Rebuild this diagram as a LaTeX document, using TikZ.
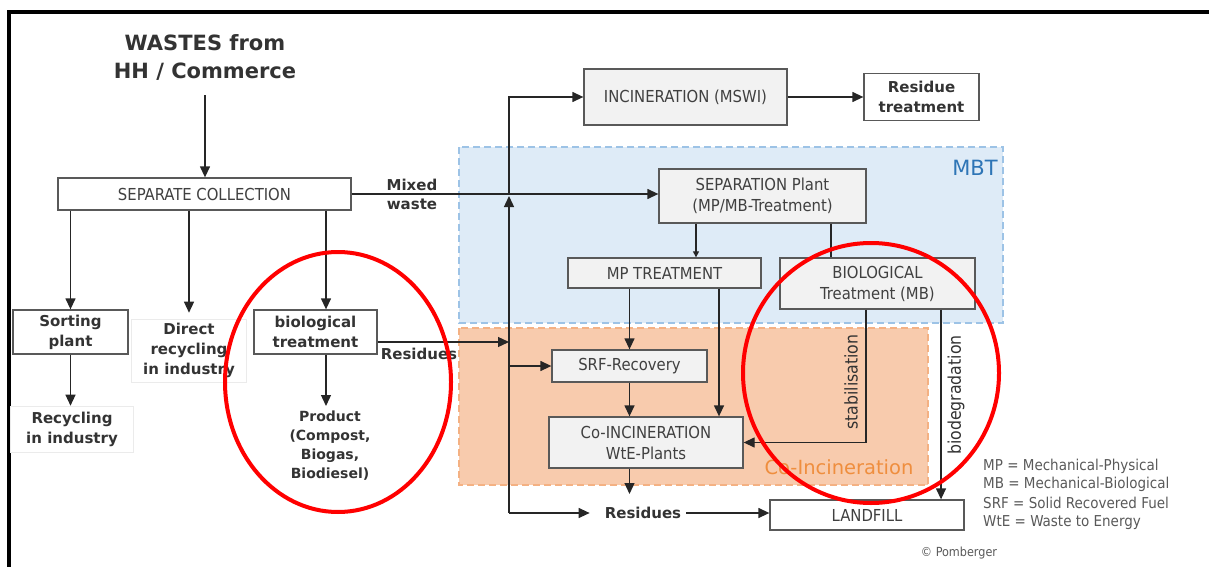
\documentclass[tikz,border=0pt]{standalone}
\usepackage{fontspec}
\setmainfont{DejaVu Sans}
\newfontfamily\boxfont{DejaVu Sans Condensed}
\usetikzlibrary{arrows.meta,calc,positioning}

\definecolor{boxgrey}{HTML}{F2F2F2}
\definecolor{edgegrey}{HTML}{595959}
\definecolor{txtgrey}{HTML}{404040}
\definecolor{linegrey}{HTML}{262626}
\definecolor{labgrey}{HTML}{333333}
\definecolor{mbtfill}{HTML}{DEEBF7}
\definecolor{mbtedge}{HTML}{9DC3E6}
\definecolor{mbttext}{HTML}{2E75B6}
\definecolor{cofill}{HTML}{F8CBAD}
\definecolor{coedge}{HTML}{F4B183}
\definecolor{cotext}{HTML}{EF8E3E}

\tikzset{
    procbox/.style={draw=edgegrey, line width=1.3pt, fill=boxgrey, text=txtgrey,
        font=\boxfont\fontsize{16.5}{21}\selectfont, align=center, inner sep=0pt},
    plainbox/.style={procbox, fill=white},
    boldbox/.style={draw=edgegrey, line width=1.3pt, fill=white, text=labgrey,
        font=\bfseries\fontsize{15}{20}\selectfont, align=center, inner sep=0pt},
    faintbox/.style={boldbox, draw=black!8, line width=0.6pt},
    lab/.style={text=labgrey, font=\bfseries\fontsize{15}{19}\selectfont, align=center, inner sep=5pt},
    flow/.style={draw=linegrey, line width=1.3pt, -{Triangle[length=11pt,width=10pt]}},
    smallflow/.style={draw=linegrey, line width=1.1pt, -{Triangle[length=6pt,width=6pt]}},
    link/.style={draw=linegrey, line width=1.3pt},
    region/.style={dash pattern=on 7pt off 4pt, line width=1.8pt},
    redring/.style={draw=red, line width=4pt}
}

\begin{document}
\begin{tikzpicture}[x=1pt, y=-1pt]
    \useasboundingbox (0,0) rectangle (1209,567);
    % Frame
    \draw[line width=3.5pt] (9,567) -- (9,12) -- (1209,12);

    % MBT and co-incineration regions
    \draw[region, draw=mbtedge, fill=mbtfill] (459,147) rectangle (1003,323);
    \draw[region, draw=coedge, fill=cofill] (459,328) rectangle (928,485);
    \node[text=mbttext, font=\fontsize{21}{24}\selectfont] (mbtlabel) at (975,168) {MBT};
    \node[text=cotext, font=\fontsize{19.5}{22}\selectfont] (colabel) at (839,467) {Co-Incineration};

    % Source and separate collection
    \node[text=labgrey, font=\bfseries\fontsize{21}{28}\selectfont, align=center] (src) at (205,57) {WASTES from\\HH / Commerce};
    \node[plainbox, minimum width=293pt, minimum height=32pt] (sepcol) at (204.5,194) {SEPARATE COLLECTION};

    \node[boldbox, minimum width=115pt, minimum height=44pt] (sorting) at (70.5,332) {Sorting\\plant};
    \node[faintbox, minimum width=123pt, minimum height=46pt] (recyc) at (72,429) {Recycling\\in industry};
    \node[faintbox, minimum width=115pt, minimum height=63pt] (direct) at (189,350.5) {Direct\\recycling\\in industry};
    \node[boldbox, minimum width=123pt, minimum height=44pt] (biotr) at (315.5,332) {biological\\treatment};
    \node[lab, anchor=north, font=\bfseries\fontsize{14}{19}\selectfont] (product) at (330,406) {Product\\(Compost,\\Biogas,\\Biodiesel)};
    \node[lab] (resleft) at (419,354) {Residues};
    \node[lab] (mixed) at (412,194) {Mixed\\waste};

    % Incineration
    \node[procbox, minimum width=203pt, minimum height=56pt] (incin) at (685.5,97) {INCINERATION (MSWI)};
    \node[boldbox, minimum width=115pt, minimum height=47pt] (restr) at (921.5,97) {Residue\\treatment};

    % MBT boxes
    \node[procbox, minimum width=207pt, minimum height=54pt] (sepplant) at (762.5,196) {SEPARATION Plant\\(MP/MB-Treatment)};
    \node[procbox, minimum width=193pt, minimum height=30pt] (mptr) at (664.5,273) {MP TREATMENT};
    \node[procbox, minimum width=195pt, minimum height=51pt] (biol) at (877.5,283.5) {BIOLOGICAL\\Treatment (MB)};

    % Co-incineration boxes
    \node[procbox, minimum width=155pt, minimum height=32pt] (srf) at (629.5,366) {SRF-Recovery};
    \node[procbox, minimum width=194pt, minimum height=51pt] (coinc) at (646,442.5) {Co-INCINERATION\\WtE-Plants};

    % Landfill
    \node[lab] (resbot) at (643,513) {Residues};
    \node[plainbox, minimum width=194pt, minimum height=30pt] (landfill) at (867,515) {LANDFILL};

    % Trunk on the left of MBT
    \coordinate (trtop) at (509,97);
    \coordinate (trbot) at (509,513);
    \coordinate (mix) at (sepcol.east -| trtop);

    % Connectors, left part
    \draw[flow] ([yshift=-12pt]src.south) -- (src.south |- sepcol.north);
    \draw[flow] (sepcol.south -| sorting.north) -- (sorting.north);
    \draw[flow] (sorting.south) -- (sorting.south |- recyc.north);
    \draw[flow, shorten >=6pt] (sepcol.south -| direct.north) -- (direct.north);
    \draw[flow] (sepcol.south -| {$(biotr.north)+(10.5,0)$}) -- ([xshift=10.5pt]biotr.north);
    \draw[flow] ([xshift=10.5pt]biotr.south) -- ([xshift=10.5pt]biotr.south |- product.north);
    \draw[flow] ([yshift=-10pt]biotr.east) -- ([yshift=-10pt]biotr.east -| trtop);

    % Connectors, mixed waste and trunk
    \draw[flow] (sepcol.east) -- (sepcol.east -| sepplant.west);
    \draw[flow] (trbot) -- ([yshift=-2pt]mix);
    \draw[flow] (mix) -- (trtop) -- (incin.west);
    \draw[flow] (incin.east) -- (restr.west);
    \draw[flow] (trtop |- srf.west) -- (srf.west);
    \draw[flow, shorten >=10pt] (trbot) -- (resbot.west);
    \draw[flow] (resbot.east) -- (resbot.east -| landfill.west);

    % Connectors, MBT
    \draw[smallflow] ([xshift=-66.5pt]sepplant.south) -- ([xshift=-66.5pt]sepplant.south |- mptr.north);
    \draw[link] ([xshift=68.5pt]sepplant.south) -- ([xshift=68.5pt]sepplant.south |- biol.north);
    \draw[flow] (srf.north |- mptr.south) -- (srf.north);
    \draw[flow] ([xshift=54.5pt]mptr.south) -- ([xshift=54.5pt]mptr.south |- coinc.north);
    \draw[flow] (srf.south) -- (srf.south |- coinc.north);
    \draw[flow, shorten >=8pt] (coinc.south -| srf.south) -- (srf.south |- resbot.north);
    \draw[flow] ([xshift=-11.5pt]biol.south) |- (coinc.east);
    \draw[flow] ([xshift=63.5pt]biol.south) -- ([xshift=63.5pt]biol.south |- landfill.north);
    \node[rotate=90, text=labgrey, font=\boxfont\fontsize{17.5}{20}\selectfont] (stab) at (851,382) {stabilisation};
    \node[rotate=90, text=labgrey, font=\boxfont\fontsize{17.5}{20}\selectfont] (biodeg) at (956,395) {biodegradation};

    % Legend
    \foreach \abbr [count=\i] in {MP = Mechanical-Physical, MB = Mechanical-Biological,
                                  SRF = Solid Recovered Fuel, WtE = Waste to Energy} {
        \node[anchor=west, inner sep=0pt, text=edgegrey, font=\boxfont\fontsize{15}{18}\selectfont] (leg\i) at (983,{466+(\i-1)*18.7}) {\abbr};
    }
    \node[text=edgegrey, font=\boxfont\fontsize{12.5}{14}\selectfont] (copy) at (959,553) {© Pomberger};

    % Highlight rings
    \draw[redring] (338,382) ellipse [x radius=113pt, y radius=130pt];
    \draw[redring] (871,373) ellipse [x radius=128pt, y radius=130pt];
\end{tikzpicture}
\end{document}
